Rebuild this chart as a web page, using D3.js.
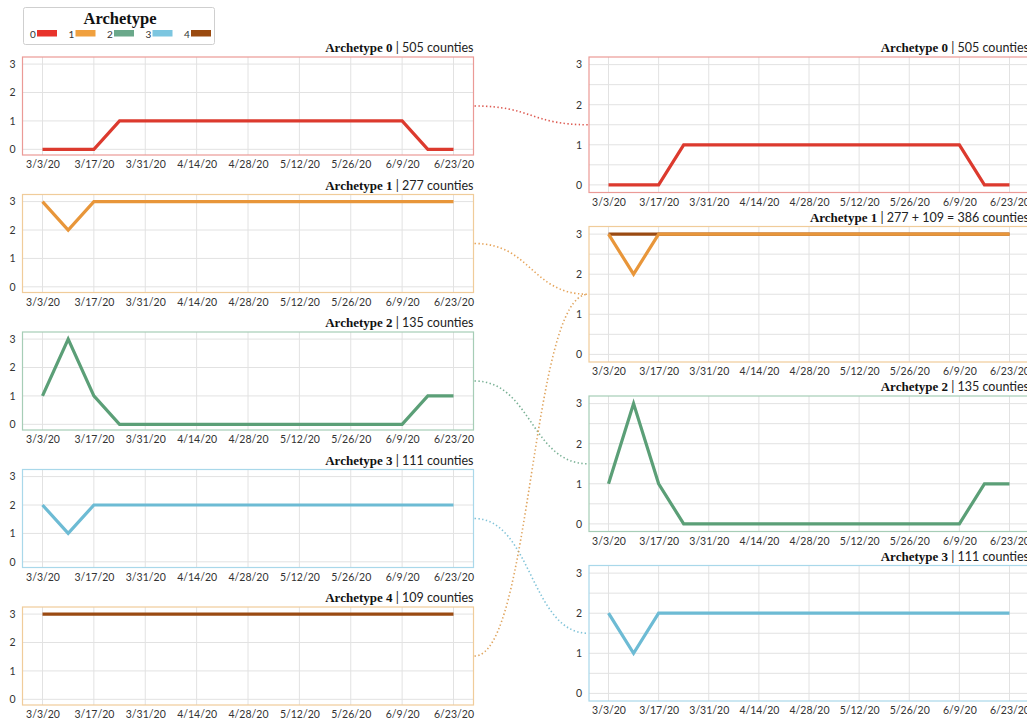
<!DOCTYPE html>
<html>
<head>
<meta charset="utf-8">
<script src="https://cdn.jsdelivr.net/npm/d3@7"></script>
<style>
  html, body { margin: 0; padding: 0; background: #fff; }
  svg { display: block; }
</style>
</head>
<body>
<svg id="chart" width="1027" height="719"></svg>
<script>
// ---------- data ----------
const dates = ["3/3/20","3/10/20","3/17/20","3/24/20","3/31/20","4/7/20","4/14/20","4/21/20","4/28/20",
               "5/5/20","5/12/20","5/19/20","5/26/20","6/2/20","6/9/20","6/16/20","6/23/20"];
const tickLabels = ["3/3/20","3/17/20","3/31/20","4/14/20","4/28/20","5/12/20","5/26/20","6/9/20","6/23/20"];
const archetypes = [0, 1, 2, 3, 4];
const counties = [505, 277, 135, 111, 109];
const series0 = [0,0,0,1,1,1,1,1,1,1,1,1,1,1,1,0,0];
const series1 = [3,2,3,3,3,3,3,3,3,3,3,3,3,3,3,3,3];
const series2 = [1,3,1,0,0,0,0,0,0,0,0,0,0,0,0,1,1];
const series3 = [2,1,2,2,2,2,2,2,2,2,2,2,2,2,2,2,2];
const series4 = [3,3,3,3,3,3,3,3,3,3,3,3,3,3,3,3,3];
const allSeries = [series0, series1, series2, series3, series4];
const lineColors = ["#dc3a2e", "#e8963a", "#5b9f77", "#6dbbd4", "#9a4a12"];
const legendColors = ["#e8332b", "#f0a03e", "#6aa88a", "#7cc6e0", "#9a4a10"];
const boxColors = ["#eb9a96", "#f0cc9a", "#a6cdb6", "#a9d8ea", "#f0cc9a"];
const linkColors = ["#d9483e", "#e39a48", "#6aa88a", "#72bcd4", "#dc9a4c"];
// right column: which archetypes are merged into each panel (drawn in order)
const rightGroups = [[0], [4, 1], [2], [3]];
const rightTitles = ["Archetype 0", "Archetype 1", "Archetype 2", "Archetype 3"];
const rightCounts = ["505", "277 + 109 = 386", "135", "111"];
const rightColorIdx = [0, 1, 2, 3];
// which right panel each left panel links to
const linkTarget = [0, 1, 2, 3, 1];

// ---------- setup ----------
const parse = d3.timeParse("%-m/%-d/%y");
const t0 = parse(dates[0]);
const dayOf = s => d3.timeDay.count(t0, parse(s));
const dateDays = dates.map(dayOf);
const tickDays = tickLabels.map(dayOf);
const svg = d3.select("#chart");
const sansFont = "Lato, 'Open Sans', sans-serif";
const serifFont = "'Liberation Serif', 'DejaVu Serif', serif";

function drawPanel(g, cfg) {
  const { x0, x1, top, bottom, yLo, yHi, gridStep, idxs, boxColor, title, count } = cfg;
  const last = tickDays[tickDays.length - 1];
  const x = d3.scaleLinear().domain([-5.45, last + 5.45]).range([x0, x1]);
  const y = d3.scaleLinear().domain([yLo, yHi]).range([bottom, top]);

  // grid
  const hVals = d3.range(0, 3 + 1e-9, gridStep);
  g.append("g").selectAll("line").data(hVals).join("line")
    .attr("x1", x0).attr("x2", x1)
    .attr("y1", d => y(d)).attr("y2", d => y(d))
    .attr("stroke", "#e2e2e2").attr("stroke-width", 1);
  g.append("g").selectAll("line").data(tickDays).join("line")
    .attr("x1", d => x(d)).attr("x2", d => x(d))
    .attr("y1", top).attr("y2", bottom)
    .attr("stroke", "#e2e2e2").attr("stroke-width", 1);

  // axes (labels only)
  const xAxis = d3.axisBottom(x).tickValues(tickDays).tickFormat((d, i) => tickLabels[i]).tickSize(0).tickPadding(6);
  const xg = g.append("g").attr("transform", `translate(0,${bottom})`).call(xAxis);
  xg.select(".domain").remove();
  xg.selectAll("text").attr("font-family", sansFont).attr("font-size", 10.5).attr("fill", "#333");

  const yAxis = d3.axisLeft(y).tickValues([0, 1, 2, 3]).tickFormat(d3.format("d")).tickSize(0).tickPadding(7);
  const yg = g.append("g").attr("transform", `translate(${x0},0)`).call(yAxis);
  yg.select(".domain").remove();
  yg.selectAll("text").attr("font-family", sansFont).attr("font-size", 10.5).attr("fill", "#333");

  // lines
  const line = d3.line().x((d, i) => x(dateDays[i])).y(d => y(d));
  idxs.forEach(k => {
    g.append("path").datum(allSeries[k])
      .attr("d", line).attr("fill", "none")
      .attr("stroke", lineColors[k]).attr("stroke-width", 3.2)
      .attr("stroke-linejoin", "miter");
  });

  // box
  g.append("rect").attr("x", x0).attr("y", top).attr("width", x1 - x0).attr("height", bottom - top)
    .attr("fill", "none").attr("stroke", boxColor).attr("stroke-width", 1.2);

  // title
  const t = g.append("text").attr("x", x1).attr("y", top - 5).attr("text-anchor", "end");
  t.append("tspan").attr("font-family", serifFont).attr("font-weight", "bold").attr("font-size", 13)
    .attr("fill", "#111").text(title);
  t.append("tspan").attr("font-family", sansFont).attr("font-size", 12.5).attr("fill", "#222")
    .text(" | " + count + " counties");
}

// left column
const leftTops = [57, 194.5, 332, 469.5, 607];
const leftH = 98;
const leftX0 = 22.5, leftX1 = 473.5;
archetypes.forEach((a, i) => {
  drawPanel(svg.append("g"), {
    x0: leftX0, x1: leftX1, top: leftTops[i], bottom: leftTops[i] + leftH,
    yLo: -0.2, yHi: 3.25, gridStep: 1, idxs: [a], boxColor: boxColors[a],
    title: "Archetype " + a, count: String(counties[i])
  });
});

// right column
const rightTops = [57, 226.5, 396, 565.5];
const rightH = 135.5;
const rightX0 = 589, rightX1 = 1029;
rightGroups.forEach((grp, j) => {
  drawPanel(svg.append("g"), {
    x0: rightX0, x1: rightX1, top: rightTops[j], bottom: rightTops[j] + rightH,
    yLo: -0.19, yHi: 3.19, gridStep: 0.5, idxs: grp, boxColor: boxColors[rightColorIdx[j]],
    title: rightTitles[j], count: rightCounts[j]
  });
});

// connectors
const link = d3.linkHorizontal();
archetypes.forEach((a, i) => {
  const src = [leftX1 + 1, leftTops[i] + leftH / 2];
  const t = linkTarget[i];
  const tgt = [rightX0 - 1, rightTops[t] + rightH / 2];
  svg.append("path").attr("d", link({ source: src, target: tgt }))
    .attr("fill", "none").attr("stroke", linkColors[a]).attr("stroke-width", 1.6)
    .attr("stroke-dasharray", "1.4,2.4").attr("opacity", 0.9);
});

// legend
const lg = svg.append("g");
lg.append("rect").attr("x", 23.5).attr("y", 7.5).attr("width", 191).attr("height", 37).attr("rx", 2)
  .attr("fill", "#fff").attr("stroke", "#cfcfcf").attr("stroke-width", 1);
lg.append("text").attr("x", 120).attr("y", 24).attr("text-anchor", "middle")
  .attr("font-family", serifFont).attr("font-weight", "bold").attr("font-size", 16.5).attr("fill", "#111")
  .text("Archetype");
const legX = d3.scalePoint().domain(archetypes).range([30, 184]);
archetypes.forEach(a => {
  lg.append("text").attr("x", legX(a)).attr("y", 37.5)
    .attr("font-family", sansFont).attr("font-size", 10).attr("fill", "#333").text(a);
  lg.append("rect").attr("x", legX(a) + 7).attr("y", 30).attr("width", 20).attr("height", 6.5)
    .attr("fill", legendColors[a]);
});
</script>
</body>
</html>
